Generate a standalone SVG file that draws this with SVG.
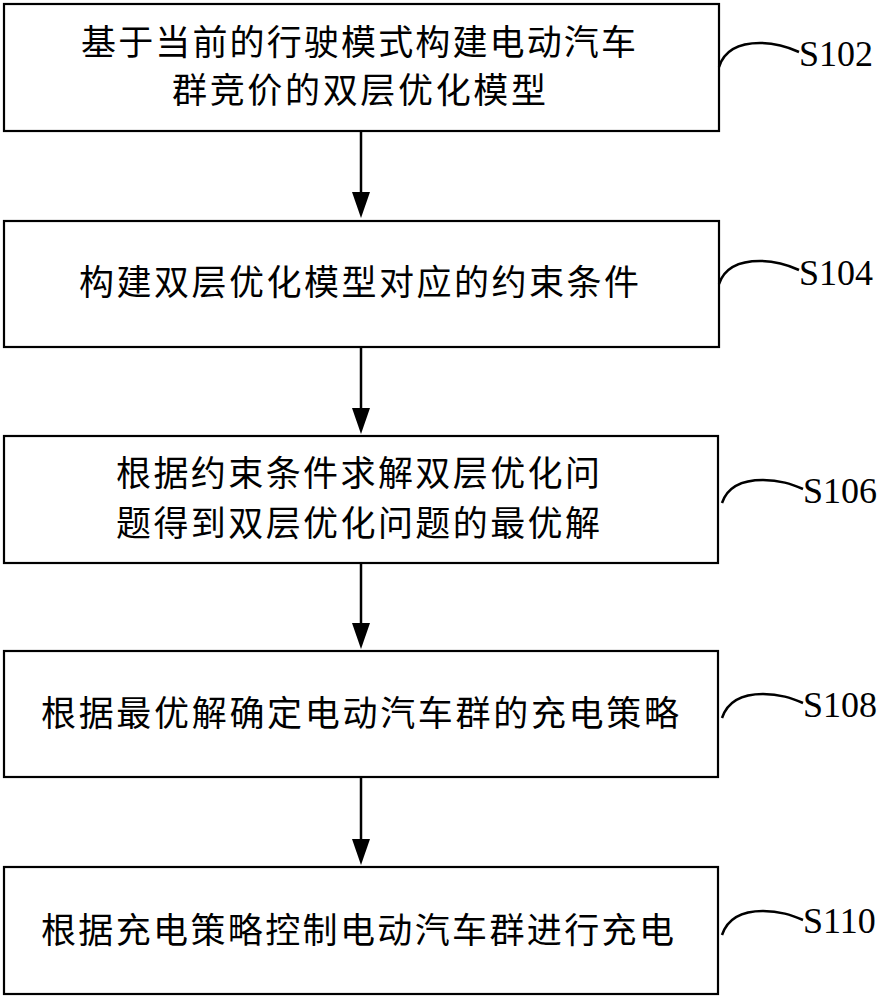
<svg xmlns="http://www.w3.org/2000/svg" width="881" height="1000" viewBox="0 0 881 1000">
<style>
.box{fill:#fff;stroke:#000;stroke-width:2.2}
.t{font-family:"Noto Sans CJK SC","Noto Sans CJK JP",sans-serif;font-size:35px;fill:#000}
.lab{font-family:"Liberation Serif","Times New Roman",serif;font-size:36px;fill:#000}
.lead{fill:none;stroke:#000;stroke-width:2.5}
.arr{stroke:#000;stroke-width:2.5;fill:none}
</style>
<rect width="881" height="1000" fill="#fff"/>
<g id="connectors">
<line class="arr" x1="361" y1="132" x2="361" y2="193"/>
<path d="M352,192 L370,192 L361,218 Z" fill="#000"/>
<line class="arr" x1="361" y1="348" x2="361" y2="409"/>
<path d="M352,408 L370,408 L361,434 Z" fill="#000"/>
<line class="arr" x1="361" y1="564" x2="361" y2="624"/>
<path d="M352,623 L370,623 L361,649 Z" fill="#000"/>
<line class="arr" x1="361" y1="778" x2="361" y2="840"/>
<path d="M352,839 L370,839 L361,865 Z" fill="#000"/>
</g>
<g id="S102">
<rect class="box" x="4" y="4" width="715" height="127"/>
<text class="t" x="81" y="55" textLength="555" lengthAdjust="spacing">基于当前的行驶模式构建电动汽车</text>
<text class="t" x="172" y="103" textLength="374" lengthAdjust="spacing">群竞价的双层优化模型</text>
<path class="lead" d="M719,67 C725,48 742,43 760,43 C777,43 788,47 799,52"/>
<text class="lab" x="799" y="66">S102</text>
</g>
<g id="S104">
<rect class="box" x="4" y="221" width="715" height="126"/>
<text class="t" x="79" y="295" textLength="560" lengthAdjust="spacing">构建双层优化模型对应的约束条件</text>
<path class="lead" d="M719,284 C725,266 742,261 760,261 C777,261 788,265 799,270"/>
<text class="lab" x="799" y="285">S104</text>
</g>
<g id="S106">
<rect class="box" x="4" y="436" width="714" height="127"/>
<text class="t" x="116" y="486" textLength="484" lengthAdjust="spacing">根据约束条件求解双层优化问</text>
<text class="t" x="116" y="536" textLength="484" lengthAdjust="spacing">题得到双层优化问题的最优解</text>
<path class="lead" d="M722,503 C728,485 745,480 763,480 C780,480 791,484 803,489"/>
<text class="lab" x="803" y="503">S106</text>
</g>
<g id="S108">
<rect class="box" x="4" y="651" width="714" height="126"/>
<text class="t" x="41" y="726" textLength="638" lengthAdjust="spacing">根据最优解确定电动汽车群的充电策略</text>
<path class="lead" d="M722,718 C728,700 745,694 763,694 C780,694 791,698 803,703"/>
<text class="lab" x="803" y="717">S108</text>
</g>
<g id="S110">
<rect class="box" x="4" y="867" width="714" height="127"/>
<text class="t" x="41" y="943" textLength="633" lengthAdjust="spacing">根据充电策略控制电动汽车群进行充电</text>
<path class="lead" d="M722,935 C728,917 745,911 763,911 C780,911 791,915 803,920"/>
<text class="lab" x="803" y="933">S110</text>
</g>
</svg>
